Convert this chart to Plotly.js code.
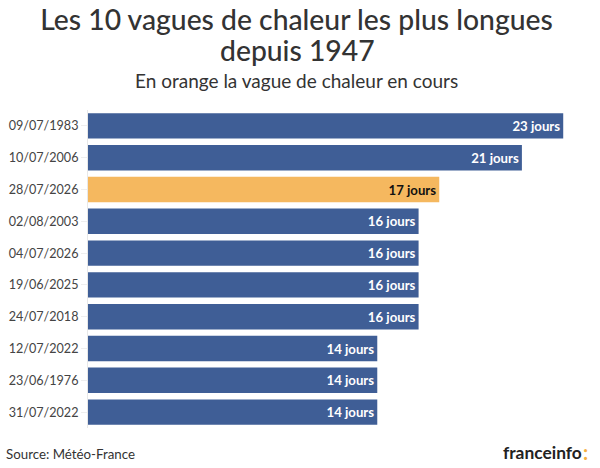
<!DOCTYPE html>
<html><head><meta charset="utf-8">
<script src="https://cdn.plot.ly/plotly-3.0.1.min.js"></script>
<style>html,body{margin:0;padding:0;background:#fff}</style></head>
<body><div id="c" style="width:600px;height:468px"></div>
<script>
var dates=["09/07/1983","10/07/2006","28/07/2026","02/08/2003","04/07/2026","19/06/2025","24/07/2018","12/07/2022","23/06/1976","31/07/2022"];
var days=[23,21,17,16,16,16,16,14,14,14];
var barColors=["#3f5e96","#3f5e96","#f5b85f","#3f5e96","#3f5e96","#3f5e96","#3f5e96","#3f5e96","#3f5e96","#3f5e96"];
var textColors=["#fff","#fff","#111","#fff","#fff","#fff","#fff","#fff","#fff","#fff"];
var F="Lato, sans-serif";
var L=88,T=110,W=512,H=318;
function px(x){return (x-L)/W}
function py(y){return (T+H-y)/H}
function note(text,x,y,size,color,anchor,weight){return {text:text,xref:"paper",yref:"paper",x:px(x),y:py(y),xanchor:anchor||"center",yanchor:"middle",showarrow:false,font:{family:F,size:size,color:color||"#333",weight:weight||400}}}
Plotly.newPlot("c",[{type:"bar",orientation:"h",y:dates,x:days,marker:{color:barColors},
 text:days.map(function(d){return "<b>"+d+" jours</b>"}),textposition:"inside",insidetextanchor:"end",
 textangle:0,insidetextfont:{family:F,size:13.2,color:textColors},constraintext:"none",hoverinfo:"skip"}],
{width:600,height:468,margin:{l:L,r:0,t:T,b:468-T-H,pad:0},paper_bgcolor:"#fff",plot_bgcolor:"#fff",bargap:0.2,showlegend:false,
 title:{text:"Les 10 vagues de chaleur les plus longues",x:296.5/600,xanchor:"center",y:1-20/468,yanchor:"middle",font:{family:F,size:28.3,color:"#333",weight:500}},
 xaxis:{range:[0,24.78],visible:false,fixedrange:true},
 yaxis:{type:"category",autorange:"reversed",ticks:"outside",ticklen:6,tickcolor:"#eeeeee",showline:true,linecolor:"#e8e8e8",showgrid:false,tickfont:{family:F,size:12.6,color:"#444"},automargin:false},
 annotations:[
  note("depuis 1947",297,50,28.3,"#333","center",500),
  note("En orange la vague de chaleur en cours",296,81,19),
  note("Source: Météo-France",4,454,13.3,"#333","left"),
  note("<b>franceinfo</b>",584,452,17.4,"#222","right"),
  note("<b>:</b>",590,452,20,"#f5b041","right")
 ]},{displayModeBar:false,staticPlot:true});
</script></body></html>
